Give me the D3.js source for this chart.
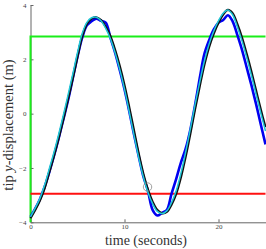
<!DOCTYPE html>
<html><head><meta charset="utf-8">
<script src="https://cdn.jsdelivr.net/npm/d3@7"></script>
<style>html,body{margin:0;padding:0;background:#fff;}svg{display:block;}</style>
</head><body>
<svg id="c" width="266" height="249"></svg>
<script>
const time = d3.range(0, 25.001, 0.5);
const yBlack = [-3.85,-3.55,-3.2,-2.75,-2.15,-1.55,-0.9,-0.2,0.55,1.3,2.1,2.85,3.3,3.5,3.55,3.45,3.2,2.85,2.35,1.75,1.05,0.25,-0.6,-1.45,-2.2,-2.8,-3.25,-3.55,-3.67,-3.62,-3.35,-2.95,-2.35,-1.6,-0.75,0.15,1.0,1.8,2.45,2.95,3.35,3.65,3.82,3.7,3.3,2.8,2.2,1.55,0.85,0.15,-0.5];
const yCyan = [-3.8,-3.48,-3.12,-2.63,-2.03,-1.42,-0.76,-0.05,0.7,1.46,2.25,2.95,3.36,3.53,3.55,3.42,3.14,2.76,2.24,1.62,0.9,0.08,-0.77,-1.6,-2.32,-2.9,-3.32,-3.6,-3.68,-3.58,-3.28,-2.84,-2.2,-1.43,-0.57,0.32,1.16,1.94,2.56,3.04,3.42,3.7,3.82,3.64,3.2,2.68,2.07,1.41,0.71,0.02,-0.64];
const yBlue = [-3.8,-3.5,-3.15,-2.7,-2.15,-1.55,-0.9,-0.2,0.5,1.3,2.1,2.8,3.25,3.4,3.5,3.42,3.35,2.8,2.25,1.6,0.9,0.1,-0.75,-1.55,-2.3,-2.85,-3.55,-3.75,-3.65,-3.55,-2.95,-2.4,-1.8,-1.3,-0.6,0.3,1.3,2.2,2.7,3.1,3.35,3.45,3.62,3.4,2.9,2.35,1.7,1.05,0.35,-0.4,-1.13];
const greenLevel = 2.84;
const redLevel = -2.95;
const marker = {t: 12.45, y: -2.7};
const xTicks = [0, 10, 20];
const yTicks = [-4, -2, 0, 2, 4];
const xDomain = [0, 25];
const yDomain = [-4, 4];

const svg = d3.select("#c");
const x = d3.scaleLinear().domain(xDomain).range([30.5, 265.5]);
const y = d3.scaleLinear().domain(yDomain).range([222.3, 5]);
const axisColor = "#666";
const serif = "'Liberation Serif', 'DejaVu Serif', serif";

// axes
const xAx = svg.append("g").attr("transform", `translate(0,${y(-4)})`)
  .call(d3.axisBottom(x).tickValues(xTicks).tickSizeInner(-3).tickSizeOuter(0).tickPadding(1.5).tickFormat(d3.format("d")));
const yAx = svg.append("g").attr("transform", `translate(${x(0)},0)`)
  .call(d3.axisLeft(y).tickValues(yTicks).tickSizeInner(-3).tickSizeOuter(0).tickPadding(4).tickFormat(d => d < 0 ? "\u2212" + Math.abs(d) : d));
[xAx, yAx].forEach(g => {
  g.select(".domain").attr("stroke", axisColor).attr("stroke-width", 1);
  g.selectAll(".tick line").attr("stroke", axisColor);
  g.selectAll(".tick text").attr("font-family", serif).attr("font-size", 7).attr("fill", "#444");
});

// threshold lines
svg.append("path")
  .attr("d", d3.line()([[x(0), y(yDomain[0])], [x(0), y(greenLevel)], [x(xDomain[1]), y(greenLevel)]]))
  .attr("fill", "none").attr("stroke", "#1aee1a").attr("stroke-width", 2);
svg.append("path")
  .attr("d", d3.line()([[x(0), y(redLevel)], [x(xDomain[1]), y(redLevel)]]))
  .attr("fill", "none").attr("stroke", "#ff1010").attr("stroke-width", 2);

const line = d3.line().x(d => x(d[0])).y(d => y(d[1])).curve(d3.curveCatmullRom);
const ser = (arr) => time.map((t, i) => [t, arr[i]]);

svg.append("path").attr("d", line(ser(yBlue))).attr("fill", "none").attr("stroke", "#0000f0").attr("stroke-width", 2.6);
svg.append("path").attr("d", line(ser(yBlack))).attr("fill", "none").attr("stroke", "#111").attr("stroke-width", 2.2);
svg.append("path").attr("d", line(ser(yCyan))).attr("fill", "none").attr("stroke", "#20c8d8").attr("stroke-width", 1.5);

svg.append("circle").attr("cx", x(marker.t)).attr("cy", y(marker.y)).attr("r", 4.2)
  .attr("fill", "none").attr("stroke", "#888").attr("stroke-width", 0.8);

// labels
svg.append("text").attr("x", 146).attr("y", 245).attr("text-anchor", "middle")
  .attr("font-family", serif).attr("font-size", 14).attr("fill", "#333").text("time (seconds)");
const yl = svg.append("text").attr("transform", "translate(13,125) rotate(-90)").attr("text-anchor", "middle")
  .attr("font-family", serif).attr("font-size", 14.5).attr("fill", "#333");
yl.append("tspan").text("tip ");
yl.append("tspan").attr("font-style", "italic").text("y");
yl.append("tspan").text("-displacement (m)");
</script>
</body></html>
